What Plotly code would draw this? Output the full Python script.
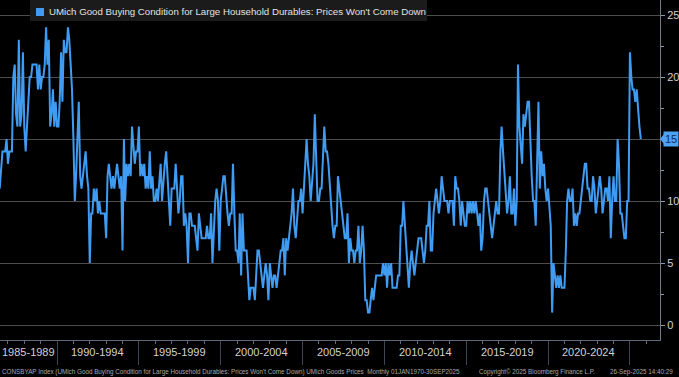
import pandas as pd
import plotly.graph_objects as go

# ---------------- data ----------------
series_name = "UMich Good Buying Condition for Large Household Durables: Prices Won't Come Down"
first_month = "1986-07-01"
values = [
    11, 13, 14, 14, 14, 15,                               # 1986 Jul-Dec
    13, 14, 14, 14, 20, 21, 17, 16, 23, 16, 17, 22,       # 1987
    16, 14, 16, 18, 20, 20, 21, 21, 21, 21, 19, 21,       # 1988
    19, 20, 20, 21, 24, 21, 23, 16, 17, 19, 16, 18,       # 1989
    16, 16, 18, 22, 18, 23, 22, 22, 24, 23, 21, 19,       # 1990
    15, 10, 12, 15, 18, 12, 11, 12, 13, 14, 12, 11,       # 1991
    5, 9, 9, 11, 10, 11, 9, 10, 9, 9, 9, 9,               # 1992
    7, 12, 13, 12, 11, 12, 11, 12, 13, 12, 11, 12,        # 1993
    6, 15, 10, 13, 12, 13, 12, 16, 14, 13, 14, 14,        # 1994
    16, 12, 13, 12, 13, 11, 12, 11, 14, 11, 12, 10,       # 1995
    10, 11, 10, 12, 13, 10, 12, 13, 14, 12, 10, 8,        # 1996
    11, 11, 11, 13, 11, 9, 10, 12, 12, 8, 9, 8,           # 1997
    5, 9, 9, 8, 8, 8, 7, 6, 9, 8, 7, 7,                   # 1998
    7, 7, 8, 7, 7, 9, 5, 8, 10, 11, 10, 6,                # 1999
    10, 11, 12, 12, 10, 9, 8, 9, 9, 13, 9, 6,             # 2000
    6, 5, 9, 4, 9, 6, 6, 6, 4, 2, 3, 3,                   # 2001
    3, 2, 4, 6, 6, 5, 4, 3, 4, 5, 4, 2,                   # 2002
    5, 4, 3, 4, 4, 3, 4, 5, 6, 6, 7, 4,                   # 2003
    7, 6, 7, 8, 9, 11, 8, 7, 9, 10, 10, 11,               # 2004
    9, 11, 12, 15, 13, 12, 10, 12, 13, 17, 13, 10,        # 2005
    10, 11, 11, 14, 16, 14, 14, 13, 11, 9, 8, 7,          # 2006
    8, 8, 12, 11, 10, 9, 8, 7, 7, 9, 5, 7,                # 2007
    6, 6, 5, 6, 6, 8, 5, 6, 8, 6, 2, 2,                   # 2008
    1, 1, 2, 3, 2, 3, 4, 4, 4, 4, 4, 5,                   # 2009
    4, 5, 3, 5, 4, 5, 3, 3, 3, 3, 4, 4,                   # 2010
    8, 8, 10, 8, 6, 5, 3, 5, 6, 5, 4, 5,                  # 2011
    6, 7, 7, 7, 6, 5, 6, 8, 8, 10, 6, 6,                  # 2012
    9, 10, 11, 10, 9, 10, 12, 11, 10, 10, 10, 9,          # 2013
    10, 10, 10, 8, 12, 11, 11, 10, 8, 10, 9, 8,           # 2014
    8, 10, 9, 10, 9, 10, 9, 10, 9, 8, 9, 6,               # 2015
    7, 10, 11, 11, 10, 9, 8, 7, 8, 9, 10, 9,              # 2016
    9, 14, 16, 14, 12, 10, 9, 10, 12, 9, 9, 11,           # 2017
    8, 10, 21, 16, 14, 13, 17, 16, 17, 18, 18, 14,        # 2018
    12, 10, 10, 8, 12, 18, 11, 14, 12, 13, 11, 10,        # 2019
    11, 9, 8, 1, 5, 4, 3, 4, 3, 4, 3, 3,                  # 2020
    3, 6, 10, 11, 10, 10, 11, 8, 9, 8, 9, 9,              # 2021
    10, 11, 12, 13, 13, 11, 11, 10, 10, 12, 11, 9,        # 2022
    10, 11, 12, 11, 9, 10, 11, 11, 10, 12, 7, 10,         # 2023
    12, 10, 10, 15, 13, 9, 9, 8, 7, 7, 10, 10,            # 2024
    22, 20, 19, 19, 18, 19, 17, 16, 15,                   # 2025 Jan-Sep
]
period_labels = ["1985-1989", "1990-1994", "1995-1999", "2000-2004",
                 "2005-2009", "2010-2014", "2015-2019", "2020-2024", "2025-2029"]
period_starts = [1985, 1990, 1995, 2000, 2005, 2010, 2015, 2020, 2025]
y_ticks = [0, 5, 10, 15, 20, 25]

footer_left = ("CONSBYAP Index (UMich Good Buying Condition for Large Household Durables: "
               "Prices Won't Come Down) UMich Goods Prices  Monthly 01JAN1970-30SEP2025")
footer_mid = "Copyright\u00a9 2025 Bloomberg Finance L.P."
footer_right = "26-Sep-2025 14:40:29"

# ---------------- style ----------------
W, H = 679, 377
ML, MR, MT, MB = 0, 19, 0, 37
PW, PH = W - ML - MR, H - MT - MB
X_START = pd.Timestamp("1986-07-08")
X_END = pd.Timestamp("2026-11-03")
Y_RANGE = [-1.21, 26.21]
LINE_BLUE = "#3f9cf2"
GRID = "#4d4d4d"
AXIS = "#5d6b7c"
TXT = "#d2d2d2"
FONT = "Liberation Sans, Arial, sans-serif"

dates = pd.date_range(first_month, periods=len(values), freq="MS")

fig = go.Figure()
fig.add_trace(go.Scatter(x=dates, y=values, mode="lines", name=series_name,
                         line=dict(color=LINE_BLUE, width=2),
                         showlegend=False, hoverinfo="skip"))

sep_vals = [pd.Timestamp(f"{y}-01-01") for y in period_starts
            if X_START < pd.Timestamp(f"{y}-01-01") < X_END]

annotations = []
for lab, y0 in zip(period_labels, period_starts):
    lo = max(pd.Timestamp(f"{y0}-01-01"), X_START)
    hi = min(pd.Timestamp(f"{y0 + 5}-01-01"), X_END)
    if hi - lo < pd.Timedelta(days=700):
        continue
    mid = lo + (hi - lo) / 2
    annotations.append(dict(x=mid, y=0, xref="x", yref="paper", yshift=-20,
                            text=lab, showarrow=False,
                            font=dict(size=11, color=TXT, family=FONT)))

for txt, xp in [(footer_left, 0.0), (footer_mid, 477 / PW), (footer_right, 608 / PW)]:
    annotations.append(dict(x=xp, y=0, xref="paper", yref="paper", yshift=-32,
                            xanchor="left", yanchor="middle", text=txt, showarrow=False,
                            font=dict(size=6.3, color="#a8a8a8", family=FONT)))

# legend (title box with coloured swatch)
annotations.append(dict(x=47 / PW, y=1 - 11.5 / PH, xref="paper", yref="paper",
                        xanchor="left", yanchor="middle", text=series_name,
                        showarrow=False,
                        font=dict(size=9.7, color="#e2e2e2", family=FONT)))

# last value tag
annotations.append(dict(x=1, y=values[-1], xref="paper", yref="y", xanchor="left",
                        xshift=3, text=str(values[-1]), showarrow=False,
                        bgcolor="#4da2f4", borderpad=1,
                        font=dict(size=11, color="#0d2d57", family=FONT)))

u = (Y_RANGE[1] - Y_RANGE[0]) / PH  # data units per pixel
shapes = [
    dict(type="rect", xref="paper", yref="paper", x0=30 / PW, x1=427 / PW,
         y0=1 - 21 / PH, y1=1, fillcolor="#1b1b1b", line=dict(width=0), layer="above"),
    dict(type="rect", xref="paper", yref="paper", x0=36 / PW, x1=44 / PW,
         y0=1 - 16 / PH, y1=1 - 8 / PH, fillcolor=LINE_BLUE, line=dict(width=0), layer="above"),
    dict(type="path", xref="paper", yref="y", layer="above",
         path=(f"M {1 + 0 / PW},{values[-1]} L {1 + 4 / PW},{values[-1] + 5 * u} "
               f"L {1 + 4 / PW},{values[-1] - 5 * u} Z"),
         fillcolor="#4da2f4", line=dict(width=0)),
]

# tick label hidden where the last-value tag sits
y_ticktext = ["" if t == values[-1] else str(t) for t in y_ticks]

fig.update_layout(
    width=W, height=H,
    margin=dict(l=ML, r=MR, t=MT, b=MB),
    paper_bgcolor="#000000", plot_bgcolor="#000000",
    font=dict(family=FONT, color=TXT, size=11),
    showlegend=False,
    annotations=annotations,
    shapes=shapes,
)
fig.update_xaxes(
    type="date", range=[X_START, X_END],
    showgrid=False, zeroline=False,
    showline=True, linecolor=AXIS, linewidth=1,
    tickmode="array", tickvals=sep_vals, ticks="outside", ticklen=24,
    tickcolor="#3a4654", showticklabels=False,
    minor=dict(dtick="M12", tick0="1987-01-01", ticks="outside", ticklen=3,
               tickcolor=AXIS, showgrid=False),
)
fig.update_yaxes(
    side="right", range=Y_RANGE, tickmode="array", tickvals=y_ticks, ticktext=y_ticktext,
    showgrid=True, gridcolor=GRID, gridwidth=1, zeroline=False,
    showline=True, linecolor="#6e7c8c", linewidth=1,
    ticks="outside", ticklen=4, tickcolor="#8a98a8",
    tickfont=dict(size=11, color=TXT, family=FONT),
    minor=dict(dtick=2.5, ticks="outside", ticklen=3, tickcolor="#8a98a8", showgrid=False),
)

fig.write_html("out.html", config={"displayModeBar": False},
               post_script="document.body.style.margin='0px';")
